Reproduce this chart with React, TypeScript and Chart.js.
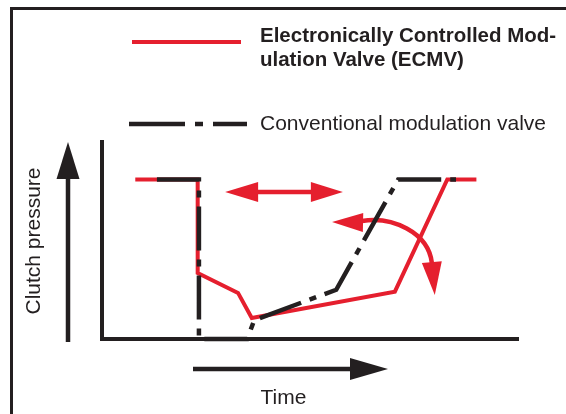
import React, { useEffect, useRef } from 'react';
import { Chart, registerables } from 'chart.js';

Chart.register(...registerables);

const RED = '#e51f2e';
const BLACK = '#231f20';
const FONT = '"Liberation Sans", Arial, Helvetica, sans-serif';

// ECMV (red, solid) — time vs clutch pressure, arbitrary units 0..100
const ecmvTime = [8, 23.0, 23.0, 32.7, 36.0, 70.4, 83.0, 90.0];
const ecmvPressure = [81, 81, 33.5, 23.4, 10.7, 24.0, 81, 81];

// Conventional modulation valve (black, dash-dot)
const convTime = [13.2, 23.3, 23.3, 34.9, 36.6, 56.3, 71.2, 85.1];
const convPressure = [81, 81, 0, 0, 9.6, 25.0, 81, 81];

// Text
const ecmvLabel = ['Electronically Controlled Mod-', 'ulation Valve (ECMV)'];
const convLabel = 'Conventional modulation valve';
const yTitle = 'Clutch pressure';
const xTitle = 'Time';

// Annotations, in data units
const shiftArrowTime = [29.6, 57.9];
const shiftArrowPressure = [74.6];
const curveTime = [62.5, 69.7, 78.4, 79.3];
const curvePressure = [59.9, 62.4, 54.3, 38.6];
const curveTipTime = [55.3, 80.0];
const curveTipPressure = [59.4, 22.3];

function arrowHead(ctx: CanvasRenderingContext2D, tx: number, ty: number, ang: number, len: number, halfW: number) {
  const bx = tx - len * Math.cos(ang);
  const by = ty - len * Math.sin(ang);
  const nx = -Math.sin(ang);
  const ny = Math.cos(ang);
  ctx.beginPath();
  ctx.moveTo(tx, ty);
  ctx.lineTo(bx + nx * halfW, by + ny * halfW);
  ctx.lineTo(bx - nx * halfW, by - ny * halfW);
  ctx.closePath();
  ctx.fill();
}

const decorPlugin = {
  id: 'decor',
  beforeDatasetsDraw(chart: any) {
    const { ctx, scales } = chart;
    const sx = scales.x;
    const sy = scales.y;
    const px = (v: number) => sx.getPixelForValue(v);
    const py = (v: number) => sy.getPixelForValue(v);
    ctx.save();

    // frame
    ctx.strokeStyle = BLACK;
    ctx.lineWidth = 3;
    ctx.beginPath();
    ctx.moveTo(11.5, 420);
    ctx.lineTo(11.5, 8.5);
    ctx.lineTo(580, 8.5);
    ctx.stroke();

    // legend samples
    ctx.lineCap = 'butt';
    ctx.strokeStyle = RED;
    ctx.lineWidth = 4;
    ctx.beginPath();
    ctx.moveTo(132, 42);
    ctx.lineTo(241, 42);
    ctx.stroke();

    ctx.strokeStyle = BLACK;
    ctx.lineWidth = 4.5;
    ctx.setLineDash([56, 10, 8, 10]);
    ctx.beginPath();
    ctx.moveTo(129, 124);
    ctx.lineTo(247, 124);
    ctx.stroke();
    ctx.setLineDash([]);

    // legend text
    ctx.fillStyle = BLACK;
    ctx.textAlign = 'left';
    ctx.textBaseline = 'alphabetic';
    ctx.font = `bold 20.5px ${FONT}`;
    ctx.fillText(ecmvLabel[0], 260, 42);
    ctx.fillText(ecmvLabel[1], 260, 66);
    ctx.font = `21px ${FONT}`;
    ctx.fillText(convLabel, 260, 130);

    // y arrow
    ctx.strokeStyle = BLACK;
    ctx.fillStyle = BLACK;
    ctx.lineWidth = 4.5;
    ctx.beginPath();
    ctx.moveTo(68, 342);
    ctx.lineTo(68, 175);
    ctx.stroke();
    arrowHead(ctx, 68, 142, -Math.PI / 2, 37, 11.5);

    // x arrow
    ctx.beginPath();
    ctx.moveTo(193, 369);
    ctx.lineTo(354, 369);
    ctx.stroke();
    arrowHead(ctx, 388, 369, 0, 38, 11);

    // axis titles
    ctx.font = `21px ${FONT}`;
    ctx.textAlign = 'center';
    ctx.fillText(xTitle, 283.5, 404);
    ctx.save();
    ctx.translate(40, 241);
    ctx.rotate(-Math.PI / 2);
    ctx.fillText(yTitle, 0, 0);
    ctx.restore();

    // red double arrow
    ctx.strokeStyle = RED;
    ctx.fillStyle = RED;
    ctx.lineWidth = 4.5;
    const ay = py(shiftArrowPressure[0]);
    const ax1 = px(shiftArrowTime[0]);
    const ax2 = px(shiftArrowTime[1]);
    ctx.beginPath();
    ctx.moveTo(ax1 + 30, ay);
    ctx.lineTo(ax2 - 30, ay);
    ctx.stroke();
    arrowHead(ctx, ax1, ay, Math.PI, 33, 10);
    arrowHead(ctx, ax2, ay, 0, 32, 10);

    // red curved arrow
    ctx.beginPath();
    ctx.moveTo(px(curveTime[0]), py(curvePressure[0]));
    ctx.bezierCurveTo(
      px(curveTime[1]), py(curvePressure[1]),
      px(curveTime[2]), py(curvePressure[2]),
      px(curveTime[3]), py(curvePressure[3])
    );
    ctx.stroke();
    arrowHead(ctx, px(curveTipTime[0]), py(curveTipPressure[0]), Math.PI + 0.02, 31, 9.5);
    const ex = px(curveTipTime[1]);
    const ey = py(curveTipPressure[1]);
    arrowHead(ctx, ex, ey, Math.atan2(33, 3), 33, 10);

    ctx.restore();
  },
};

export default function App() {
  const ref = useRef<HTMLCanvasElement | null>(null);
  useEffect(() => {
    if (!ref.current) return;
    const chart = new Chart(ref.current, {
      type: 'scatter',
      data: {
        datasets: [
          {
            label: convLabel,
            data: convTime.map((t, i) => ({ x: t, y: convPressure[i] })),
            showLine: true,
            borderColor: BLACK,
            backgroundColor: BLACK,
            borderWidth: 4.5,
            borderDash: [44, 9, 7, 9],
            pointRadius: 0,
            fill: false,
            tension: 0,
            clip: false,
            order: 0,
          } as any,
          {
            label: ecmvLabel.join(''),
            data: ecmvTime.map((t, i) => ({ x: t, y: ecmvPressure[i] })),
            showLine: true,
            borderColor: RED,
            backgroundColor: RED,
            borderWidth: 4,
            pointRadius: 0,
            fill: false,
            tension: 0,
            clip: false,
            order: 1,
          } as any,
        ],
      },
      options: {
        responsive: false,
        animation: false,
        events: [],
        layout: { padding: { left: 102, top: 142, right: 48, bottom: 75 } },
        plugins: { legend: { display: false }, tooltip: { enabled: false }, title: { display: false } },
        scales: {
          x: {
            type: 'linear',
            min: 0,
            max: 100,
            grid: { display: false, drawTicks: false },
            ticks: { display: false },
            border: { display: true, color: BLACK, width: 4 },
          },
          y: {
            type: 'linear',
            min: 0,
            max: 100,
            grid: { display: false, drawTicks: false },
            ticks: { display: false },
            border: { display: true, color: BLACK, width: 4 },
          },
        },
      } as any,
      plugins: [decorPlugin],
    });
    return () => chart.destroy();
  }, []);
  return (
    <div style={{ position: 'fixed', left: 0, top: 0, width: 566, height: 414, background: '#fff' }}>
      <canvas ref={ref} width={566} height={414} style={{ display: 'block' }} />
    </div>
  );
}
